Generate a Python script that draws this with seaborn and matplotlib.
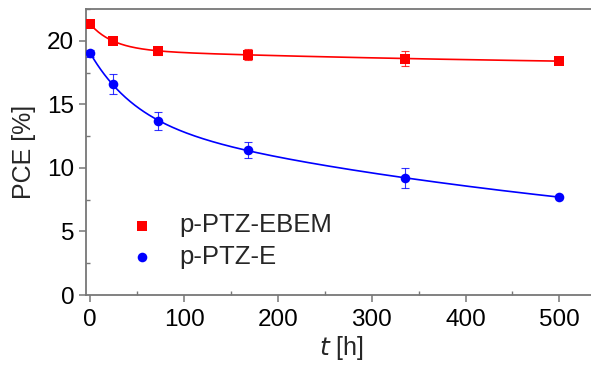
import numpy as np
import pandas as pd
import matplotlib
matplotlib.use("Agg")
import matplotlib.pyplot as plt
import seaborn as sns
from matplotlib.ticker import MultipleLocator

# ---- data ----
t_hours = [0, 24, 72, 168, 336, 500]
pce_ebem = [21.3, 20.0, 19.2, 18.9, 18.6, 18.4]
err_ebem = [0.15, 0.25, 0.3, 0.45, 0.6, 0.1]
pce_e = [19.0, 16.6, 13.7, 11.4, 9.2, 7.7]
err_e = [0.3, 0.8, 0.72, 0.62, 0.82, 0.1]
labels = ["p-PTZ-EBEM", "p-PTZ-E"]
colors = ["#ff0000", "#0000ff"]
markers = ["s", "o"]

sns.set_style("ticks")
plt.rcParams['font.family'] = ['Liberation Sans', 'DejaVu Sans']


def biexp_fit(t, y):
    """Least-squares fit y = a + b exp(-t/t1) + c exp(-t/t2), grid over t1, t2."""
    t = np.asarray(t, float)
    y = np.asarray(y, float)
    best = None
    for t1 in np.geomspace(5, 200, 40):
        for t2 in np.geomspace(50, 5000, 40):
            if t2 <= t1:
                continue
            A = np.column_stack([np.ones_like(t), np.exp(-t / t1), np.exp(-t / t2)])
            coef, *_ = np.linalg.lstsq(A, y, rcond=None)
            if np.any(coef[1:] < 0):
                continue
            r = np.sum((A @ coef - y) ** 2)
            if best is None or r < best[0]:
                best = (r, t1, t2, coef)
    _, t1, t2, coef = best
    tt = np.linspace(t.min(), t.max(), 400)
    return tt, coef[0] + coef[1] * np.exp(-tt / t1) + coef[2] * np.exp(-tt / t2)


fig = plt.figure(figsize=(5.91, 3.67), dpi=100)
ax = fig.add_axes([86 / 591, (367 - 295) / 367, (591 - 86) / 591 + 0.01, (295 - 9) / 367])

for y, e, lab, c, m in zip([pce_ebem, pce_e], [err_ebem, err_e], labels, colors, markers):
    tt, yy = biexp_fit(t_hours, y)
    fit_df = pd.DataFrame({"t": tt, "y": yy})
    sns.lineplot(data=fit_df, x="t", y="y", ax=ax, color=c, lw=1.2, legend=False)
    ax.errorbar(t_hours, y, yerr=e, fmt="none", ecolor=c, elinewidth=0.8,
                capsize=3, capthick=0.8, alpha=0.8, zorder=3)
    df = pd.DataFrame({"t": t_hours, "y": y})
    sns.scatterplot(data=df, x="t", y="y", ax=ax, color=c, marker=m, s=48,
                    edgecolor=c, linewidth=0, label=lab, zorder=4)

ax.set_xlim(-4.5, 540)
ax.set_ylim(0, 22.5)
ax.xaxis.set_major_locator(MultipleLocator(100))
ax.xaxis.set_minor_locator(MultipleLocator(50))
ax.yaxis.set_major_locator(MultipleLocator(5))
ax.yaxis.set_minor_locator(MultipleLocator(2.5))

spine_c = "#777777"
for s in ["left", "bottom", "top"]:
    ax.spines[s].set_color(spine_c)
    ax.spines[s].set_linewidth(1.3)
ax.spines["right"].set_visible(False)
ax.tick_params(which="major", direction="out", length=5, width=1.1, color=spine_c,
               labelsize=17.5, labelcolor="black", top=False, right=False)
ax.tick_params(axis="x", which="major", pad=5)
ax.tick_params(which="minor", direction="in", length=3, width=1.0, color=spine_c,
               top=False, right=False)

ax.set_xlabel(r"$\it{t}$ [h]", fontsize=18, labelpad=2)
ax.set_ylabel("PCE [%]", fontsize=18, labelpad=8)

leg = ax.legend(loc="lower left", bbox_to_anchor=(0.04, 0.055), frameon=False,
                fontsize=18.5, handletextpad=0.45, labelspacing=0.3, borderaxespad=0)

fig.savefig("out.png", dpi=100)
